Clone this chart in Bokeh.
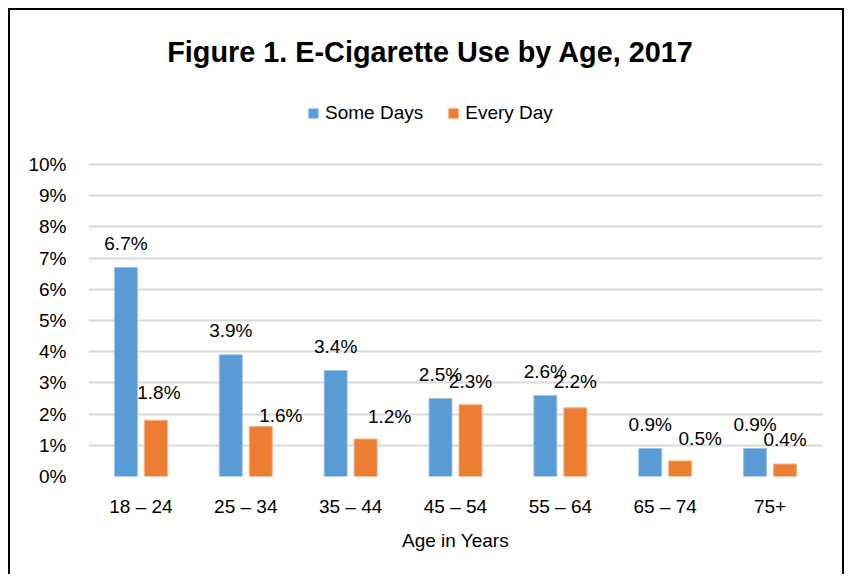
from bokeh.plotting import figure
from bokeh.models import (FactorRange, Range1d, ColumnDataSource, Label, Legend, LegendItem,
                          FixedTicker, PrintfTickFormatter)
from bokeh.transform import dodge
from bokeh.core.properties import value
from bokeh.embed import file_html
from bokeh.resources import INLINE

# ---- data ----
ages = ["18 – 24", "25 – 34", "35 – 44", "45 – 54", "55 – 64", "65 – 74", "75+"]
some_days = [6.7, 3.9, 3.4, 2.5, 2.6, 0.9, 0.9]
every_day = [1.8, 1.6, 1.2, 2.3, 2.2, 0.5, 0.4]
series_names = ["Some Days", "Every Day"]
y_ticks = [0, 1, 2, 3, 4, 5, 6, 7, 8, 9, 10]
title_text = "Figure 1. E-Cigarette Use by Age, 2017"
x_title = "Age in Years"

# ---- style ----
FONT = "Liberation Sans"
BLUE = "#5B9BD5"
ORANGE = "#ED7D31"
FS = "19px"
LABEL_GAP = -24                              # px from bar top to label centre
every_label_dx = [3, 20, 24, 0, 0, 20, 0]    # manual label nudges (px), as in the original
every_label_dy = [-4, 13, 1, 1, -2, 2, -1]

src = ColumnDataSource(dict(
    age=ages,
    some=some_days,
    every=every_day,
    some_lab=[f"{v:.1f}%" for v in some_days],
    every_lab=[f"{v:.1f}%" for v in every_day],
    every_dx=every_label_dx,
    every_dy=[LABEL_GAP + d for d in every_label_dy],
))

W, H = 836, 566
Y_TOP = 14.936  # frame extends to the top of the canvas so title/legend live inside it
p = figure(x_range=FactorRange(factors=ages), y_range=Range1d(0, Y_TOP),
           width=W, height=H, output_backend="svg", toolbar_location=None,
           min_border_left=78, min_border_right=24, min_border_top=0, min_border_bottom=100,
           styles={"margin-top": "8px", "margin-left": "8px",
                   "border-top": "2px solid black", "border-left": "2px solid black",
                   "border-right": "2px solid black"})
p.outline_line_color = None
p.background_fill_color = "white"
p.border_fill_color = "white"

off = 0.143
bw = 0.219
r1 = p.vbar(x=dodge("age", -off, range=p.x_range), top="some", width=bw, source=src,
            fill_color=BLUE, line_color="#9DC3E6", line_width=1)
r2 = p.vbar(x=dodge("age", off, range=p.x_range), top="every", width=bw, source=src,
            fill_color=ORANGE, line_color="#F4B183", line_width=1)

p.text(x=dodge("age", -off, range=p.x_range), y="some", text="some_lab", source=src,
       text_align="center", text_baseline="middle", y_offset=LABEL_GAP,
       text_font=value(FONT), text_font_size=FS, text_color="black")
p.text(x=dodge("age", off, range=p.x_range), y="every", text="every_lab", source=src,
       text_align="center", text_baseline="middle", x_offset="every_dx", y_offset="every_dy",
       text_font=value(FONT), text_font_size=FS, text_color="black")

# axes
p.yaxis.ticker = FixedTicker(ticks=y_ticks)
p.yaxis.formatter = PrintfTickFormatter(format="%d%%")
p.yaxis.axis_line_color = None
p.yaxis.major_tick_line_color = None
p.yaxis.minor_tick_line_color = None
p.yaxis.major_label_standoff = 16
p.yaxis.major_label_text_font = FONT
p.yaxis.major_label_text_font_size = FS
p.yaxis.major_label_text_color = "black"

p.xaxis.axis_line_color = None
p.xaxis.major_tick_line_color = None
p.xaxis.minor_tick_line_color = None
p.xaxis.major_label_standoff = 13
p.xaxis.major_label_text_font = FONT
p.xaxis.major_label_text_font_size = FS
p.xaxis.major_label_text_color = "black"
p.xaxis.axis_label = x_title
p.xaxis.axis_label_text_font = FONT
p.xaxis.axis_label_text_font_size = FS
p.xaxis.axis_label_text_font_style = "normal"
p.xaxis.axis_label_text_color = "black"
p.xaxis.axis_label_standoff = 10

p.xgrid.grid_line_color = None
p.ygrid.grid_line_color = "#D9D9D9"
p.ygrid.grid_line_width = 2

# title (inside the extended frame)
p.add_layout(Label(x=3.262, y=13.59, text=title_text,
                   text_align="center", text_baseline="middle", text_font=FONT,
                   text_font_size="28.8px", text_font_style="bold", text_color="black"))

# legend
legend = Legend(items=[LegendItem(label=series_names[0], renderers=[r1]),
                       LegendItem(label=series_names[1], renderers=[r2])],
                orientation="horizontal", location=(219, 352))
legend.label_text_font = FONT
legend.label_text_font_size = FS
legend.label_text_color = "black"
legend.glyph_width = 12
legend.glyph_height = 12
legend.label_standoff = 6
legend.spacing = 24
legend.padding = 0
legend.margin = 0
legend.border_line_color = None
legend.background_fill_alpha = 0
p.add_layout(legend, "center")

open("out.html", "w").write(file_html(p, INLINE))
